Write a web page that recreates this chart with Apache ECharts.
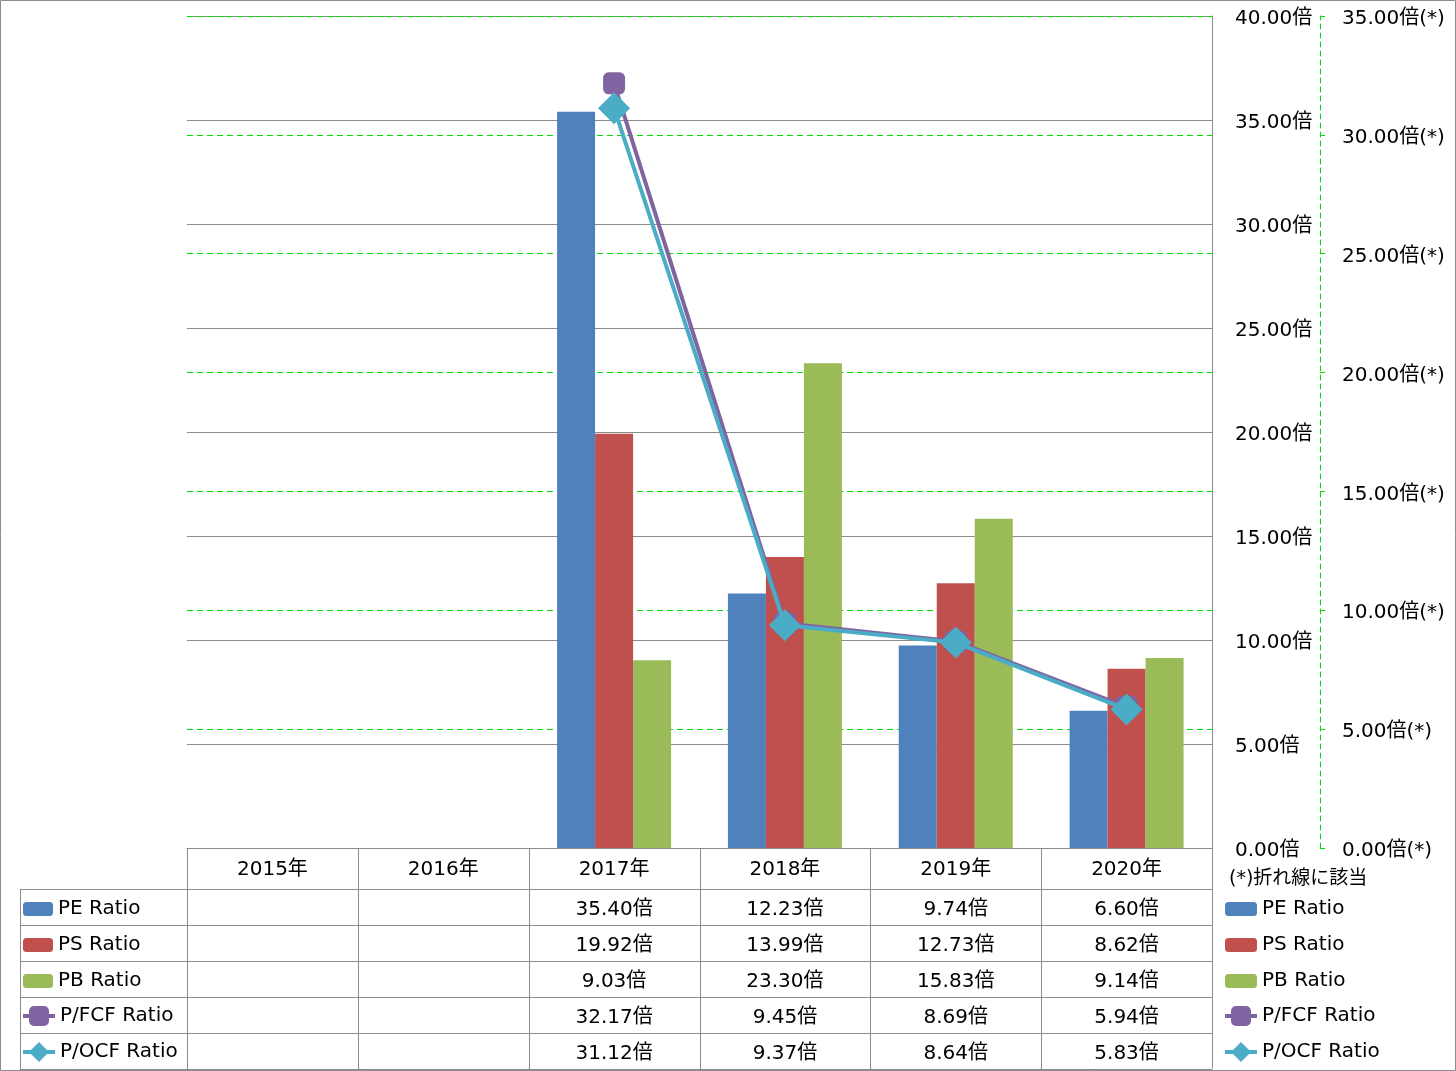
<!DOCTYPE html>
<html lang="ja">
<head>
<meta charset="UTF-8">
<title>PE PS PB P/FCF P/OCF</title>
<style>
  html, body { margin: 0; padding: 0; background: #fff; }
  #main { width: 1456px; height: 1071px; }
</style>
</head>
<body>
<div id="main"></div>
<script src="https://cdn.jsdelivr.net/npm/echarts@6/dist/echarts.min.js"></script>
<script>
    // data
    var years = ['2015年', '2016年', '2017年', '2018年', '2019年', '2020年'];
    var peRatio = [null, null, 35.40, 12.23, 9.74, 6.60];
    var psRatio = [null, null, 19.92, 13.99, 12.73, 8.62];
    var pbRatio = [null, null, 9.03, 23.30, 15.83, 9.14];
    var pfcfRatio = [null, null, 32.17, 9.45, 8.69, 5.94];
    var pocfRatio = [null, null, 31.12, 9.37, 8.64, 5.83];

    var names = ['PE Ratio', 'PS Ratio', 'PB Ratio', 'P/FCF Ratio', 'P/OCF Ratio'];
    var rows = [peRatio, psRatio, pbRatio, pfcfRatio, pocfRatio];
    var colors = ['#4F81BD', '#C0504D', '#9BBB59', '#8064A2', '#4BACC6'];

    var font = '"DejaVu Sans", "Noto Sans CJK JP", sans-serif';
    var gridColor = '#8c8c8c';

    // layout of plot + table
    var plotL = 187, plotR = 1212, plotT = 16, plotB = 848;
    var headH = 41, rowH = 36, legL = 20;
    var colW = (plotR - plotL) / years.length;

    function fmt(v) { return v.toFixed(2) + '倍'; }

    var myChart = echarts.init(document.getElementById('main'));

    // table graphics
    var g = [];
    var tableBottom = plotB + headH + rowH * rows.length;
    // outer border
    g.push({ type: 'rect', shape: { x: 0.5, y: 0.5, width: 1455, height: 1070 },
        style: { fill: null, stroke: gridColor, lineWidth: 1 }, silent: true });
    // vertical lines in table
    for (var c = 0; c <= years.length; c++) {
        var x = Math.round(plotL + c * colW) + 0.5;
        g.push({ type: 'line', shape: { x1: x, y1: plotB, x2: x, y2: tableBottom },
            style: { stroke: gridColor, lineWidth: 1 }, silent: true });
    }
    g.push({ type: 'line', shape: { x1: legL + 0.5, y1: plotB + headH, x2: legL + 0.5, y2: tableBottom },
        style: { stroke: gridColor, lineWidth: 1 }, silent: true });
    // horizontal lines
    for (var r = 0; r <= rows.length; r++) {
        var y = plotB + headH + r * rowH + 0.5;
        g.push({ type: 'line', shape: { x1: legL, y1: y, x2: plotR, y2: y },
            style: { stroke: gridColor, lineWidth: 1 }, silent: true });
    }
    // cell values
    rows.forEach(function (vals, r) {
        vals.forEach(function (v, c) {
            if (v == null) return;
            g.push({ type: 'text', x: plotL + (c + 0.5) * colW, y: plotB + headH + r * rowH + rowH / 2 + 3,
                style: { text: fmt(v), font: '20px ' + font, fill: '#000', align: 'center', verticalAlign: 'middle' },
                silent: true });
        });
    });
    // note
    g.push({ type: 'text', x: 1229, y: 879,
        style: { text: '(*)折れ線に該当', font: '19px ' + font, fill: '#000', align: 'left', verticalAlign: 'middle' },
        silent: true });

    var legendText = { fontFamily: font, fontSize: 20, color: '#000', lineHeight: 22 };
    function makeLegend(left, top, data, w, h, gap) {
        return {
            orient: 'vertical', left: left, top: top, padding: 0,
            itemWidth: w, itemHeight: h, itemGap: gap,
            lineStyle: { width: 4 },
            data: data, textStyle: legendText
        };
    }

    // label text pushed down a little (DejaVu sits high)
    var labelRich = { t: { fontFamily: font, fontSize: 20, color: '#000', padding: [6, 0, 0, 0] } };

    var option = {
        animation: false,
        backgroundColor: '#fff',
        color: colors,
        textStyle: { fontFamily: font },
        grid: { left: plotL, right: 1456 - plotR, top: plotT, bottom: 1071 - plotB, containLabel: false },
        legend: [
            makeLegend(23, 898, names.slice(0, 3), 30, 14, 14),
            makeLegend(21, 1005, names.slice(3), 32, 25, 14),
            makeLegend(1225, 898, names.slice(0, 3), 32, 14, 14),
            makeLegend(1223, 1005, names.slice(3), 32, 25, 14)
        ],
        xAxis: {
            type: 'category',
            data: years,
            axisLine: { show: true, lineStyle: { color: gridColor, width: 1 } },
            axisTick: { show: false },
            axisLabel: { fontFamily: font, fontSize: 20, color: '#000', margin: 12 }
        },
        yAxis: [
            {
                type: 'value', position: 'right', min: 0, max: 40, interval: 5,
                axisLine: { show: true, lineStyle: { color: gridColor, width: 1 } },
                axisTick: { show: false },
                splitLine: { show: true, lineStyle: { color: gridColor, width: 1 } },
                axisLabel: { margin: 23, rich: labelRich,
                    formatter: function (v) { return '{t|' + v.toFixed(2) + '倍}'; } }
            },
            {
                type: 'value', position: 'right', offset: 108, min: 0, max: 35, interval: 5,
                axisLine: { show: true, lineStyle: { color: '#00dd00', width: 1, type: [5, 4] } },
                axisTick: { show: true, inside: false, length: 5, lineStyle: { color: '#00dd00', width: 1 } },
                splitLine: { show: true, lineStyle: { color: '#00dd00', width: 1, type: [6, 4] } },
                axisLabel: { margin: 22, rich: labelRich,
                    formatter: function (v) { return '{t|' + v.toFixed(2) + '倍(*)}'; } }
            }
        ],
        series: [
            { name: names[0], type: 'bar', yAxisIndex: 0, data: peRatio, barWidth: 38, barGap: '0%', itemStyle: { color: colors[0] } },
            { name: names[1], type: 'bar', yAxisIndex: 0, data: psRatio, barWidth: 38, barGap: '0%', itemStyle: { color: colors[1] } },
            { name: names[2], type: 'bar', yAxisIndex: 0, data: pbRatio, barWidth: 38, barGap: '0%', itemStyle: { color: colors[2] } },
            { name: names[3], type: 'line', yAxisIndex: 1, data: pfcfRatio, z: 3,
                symbol: 'roundRect', symbolSize: 22, connectNulls: false,
                lineStyle: { color: colors[3], width: 4 }, itemStyle: { color: colors[3] } },
            { name: names[4], type: 'line', yAxisIndex: 1, data: pocfRatio, z: 4,
                symbol: 'diamond', symbolSize: 32, connectNulls: false,
                lineStyle: { color: colors[4], width: 4 }, itemStyle: { color: colors[4] } }
        ],
        graphic: g
    };
    myChart.setOption(option);
</script>
</body>
</html>
